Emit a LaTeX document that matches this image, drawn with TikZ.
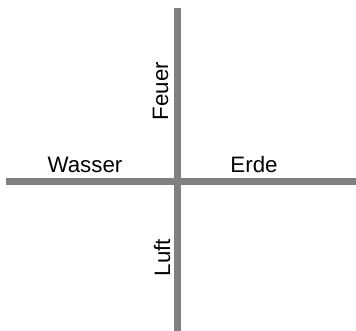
\documentclass[tikz,border=0pt]{standalone}
\usepackage{fontspec}
\setmainfont{Liberation Sans}
\begin{document}
\begin{tikzpicture}[x=1pt,y=-1pt,
  axis/.style={draw=black!50,line width=7pt},
  lbl/.style={inner sep=0pt,anchor=base,font=\fontsize{22.3}{26}\selectfont}]
\useasboundingbox (0,0) rectangle (356,331);
\coordinate (L) at (6,182);
\coordinate (R) at (356,182);
\coordinate (T) at (177,8);
\coordinate (B) at (177,331);
\draw[axis] (L) -- (R);
\draw[axis] (T) -- (B);
\node[lbl] (wasser) at (85,173) {Wasser};
\node[lbl] (erde) at (254,173) {Erde};
\node[lbl,rotate=90] (feuer) at (168,91) {Feuer};
\node[lbl,rotate=90] (luft) at (170,257.5) {Luft};
\end{tikzpicture}
\end{document}
